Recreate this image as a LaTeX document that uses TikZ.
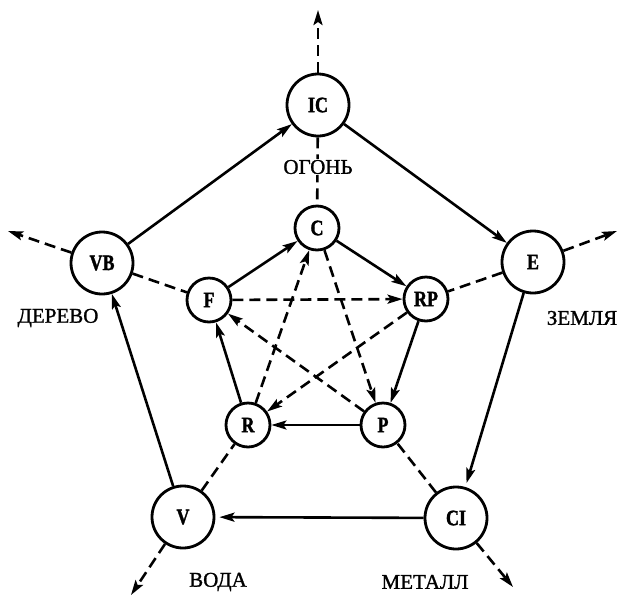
\documentclass[tikz,border=0pt]{standalone}
\usepackage{fontspec}
\setmainfont{Liberation Serif}
\newfontfamily\condfont[FakeStretch=0.82,FakeBold=1.5]{Liberation Serif}
\newfontfamily\lblfont[FakeBold=1.2]{Liberation Serif}
\usetikzlibrary{arrows.meta}
\begin{document}
\begin{tikzpicture}[x=1pt,y=-1pt,
  bignode/.style={circle,draw,line width=2.8pt,minimum size=62pt,inner sep=0pt,font=\condfont\fontsize{22}{22}\selectfont\bfseries},
  smallnode/.style={circle,draw,line width=2.8pt,minimum size=44pt,inner sep=0pt,font=\condfont\fontsize{22}{22}\selectfont\bfseries},
  sarrow/.style={line width=2.6pt,-{Stealth[length=15pt,width=9pt,inset=3pt]}},
  darrow/.style={sarrow,dash pattern=on 11pt off 6pt},
  dline/.style={line width=2.6pt,dash pattern=on 11pt off 6pt},
  lbl/.style={font=\lblfont\fontsize{21}{21}\selectfont}]
\useasboundingbox (0,0) rectangle (619,598);
% outer nodes
\node[bignode] (IC) at (318,105) {IC};
\node[bignode] (E)  at (533,262) {E};
\node[bignode] (CI) at (456,518) {CI};
\node[bignode] (V)  at (183,517) {V};
\node[bignode] (VB) at (102,263) {VB};
% inner nodes
\node[smallnode] (C)  at (317,228) {C};
\node[smallnode] (RP) at (426,299) {RP};
\node[smallnode] (P)  at (383,425) {P};
\node[smallnode] (R)  at (248,425) {R};
\node[smallnode] (F)  at (209,300) {F};
% outward tips
\coordinate (tIC) at (318,10);
\coordinate (tE)  at (617,231);
\coordinate (tCI) at (513,587);
\coordinate (tV)  at (131,595);
\coordinate (tVB) at (8,231);
% outer cycle
\draw[sarrow] (VB) -- (IC);
\draw[sarrow] (IC) -- (E);
\draw[sarrow,shorten >=4pt] (E) -- (CI);
\draw[sarrow,shorten >=4pt] (CI) -- (V);
\draw[sarrow] (V) -- (VB);
% inner cycle
\draw[sarrow] (F) -- (C);
\draw[sarrow] (C) -- (RP);
\draw[sarrow] (RP) -- (P);
\draw[sarrow] (P) -- (R);
\draw[sarrow] (R) -- (F);
% inner star
\draw[darrow] (F) -- (RP);
\draw[darrow] (RP) -- (R);
\draw[darrow] (R) -- (C);
\draw[darrow] (C) -- (P);
\draw[darrow] (P) -- (F);
% spokes
\draw[dline] (IC) -- (C);
\draw[dline] (VB) -- (F);
\draw[dline] (E) -- (RP);
\draw[dline] (V) -- (R);
\draw[dline] (CI) -- (P);
% outward arrows
\draw[darrow] (IC) -- (tIC);
\draw[darrow] (E) -- (tE);
\draw[darrow] (CI) -- (tCI);
\draw[darrow] (V) -- (tV);
\draw[darrow] (VB) -- (tVB);
% labels
\node[lbl,fill=white,inner sep=1pt] (ogon) at (318,167) {ОГОНЬ};
\node[lbl] (derevo) at (58,318) {ДЕРЕВО};
\node[lbl] (zemlya) at (582,318) {ЗЕМЛЯ};
\node[lbl] (voda) at (218,582) {ВОДА};
\node[lbl] (metall) at (425,582) {МЕТАЛЛ};
\end{tikzpicture}
\end{document}
